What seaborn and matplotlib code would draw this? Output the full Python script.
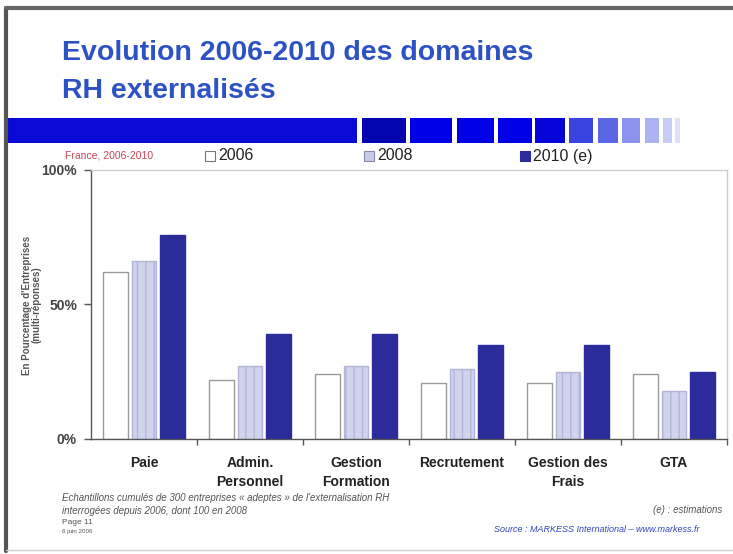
import numpy as np
import pandas as pd
import matplotlib
matplotlib.use("Agg")
import matplotlib.pyplot as plt
from matplotlib.patches import Rectangle
from matplotlib.lines import Line2D
import seaborn as sns

categories = ["Paie", "Admin.\nPersonnel", "Gestion\nFormation", "Recrutement",
              "Gestion des\nFrais", "GTA"]
years = ["2006", "2008", "2010 (e)"]
values_2006 = [62, 22, 24, 21, 21, 24]
values_2008 = [66, 27, 27, 26, 25, 18]
values_2010 = [76, 39, 39, 35, 35, 25]
ytick_values = [0, 50, 100]
ytick_labels = ["0%", "50%", "100%"]

df = pd.DataFrame({
    "cat": categories * 3,
    "year": [years[0]] * 6 + [years[1]] * 6 + [years[2]] * 6,
    "val": values_2006 + values_2008 + values_2010,
})

sns.set_theme(style="white")
plt.rcParams["font.family"] = ["Liberation Sans", "DejaVu Sans"]

W, H = 733, 554
fig = plt.figure(figsize=(W / 100, H / 100), dpi=100)
fig.patch.set_facecolor("white")

def fx(x):
    return x / W

def fy(y):
    return 1 - y / H

# slide border
fig.add_artist(Line2D([fx(6), fx(6)], [fy(8), fy(551)], color="#555555", lw=3, transform=fig.transFigure))
fig.add_artist(Line2D([fx(6), fx(733)], [fy(8), fy(8)], color="#666666", lw=3, transform=fig.transFigure))
fig.add_artist(Line2D([fx(6), fx(733)], [fy(550), fy(550)], color="#cfcfcf", lw=1, transform=fig.transFigure))

# title
fig.text(fx(62), fy(60), "Evolution 2006-2010 des domaines", color="#2d52c4", fontsize=20.5,
         fontweight="bold", ha="left", va="baseline")
fig.text(fx(62), fy(98), "RH externalisés", color="#2d52c4", fontsize=20.5,
         fontweight="bold", ha="left", va="baseline")

# blue band
band_top, band_bot = 118, 143
fig.add_artist(Rectangle((fx(7), fy(band_bot)), fx(357 - 7), fy(band_top) - fy(band_bot),
                         transform=fig.transFigure, facecolor="#0a0ad6", edgecolor="none"))
squares = [(362, 406, "#0505b0"), (410, 452, "#0000e6"), (457, 494, "#0000e6"),
           (498, 532, "#0000e6"), (535, 565, "#0505d8"), (569, 593, "#3a45e0"),
           (598, 618, "#5a66e6"), (622, 640, "#8a94ee"), (645, 659, "#aab2f2"),
           (663, 672, "#c6ccf6"), (675, 680, "#dde0fa")]
for x0, x1, c in squares:
    fig.add_artist(Rectangle((fx(x0), fy(band_bot)), fx(x1 - x0), fy(band_top) - fy(band_bot),
                             transform=fig.transFigure, facecolor=c, edgecolor="none"))

# legend row
fig.text(fx(65), fy(156), "France, 2006-2010", color="#cc4455", fontsize=7.5, ha="left", va="center")
leg_items = [(205, "white", "#777777", "2006"), (364, "#c9cce8", "#8888aa", "2008"),
             (520, "#2b2b9b", "#2b2b9b", "2010 (e)")]
for x0, fc, ec, lab in leg_items:
    fig.add_artist(Rectangle((fx(x0), fy(161)), fx(10), fy(151) - fy(161), transform=fig.transFigure,
                             facecolor=fc, edgecolor=ec, lw=0.8))
    fig.text(fx(x0 + 13), fy(156), lab, color="#222222", fontsize=11.5, ha="left", va="center")

# axes
ax = fig.add_axes([fx(91), fy(439), fx(727 - 91), fy(170) - fy(439)])
palette = {"2006": "white", "2008": "#d0d3ec", "2010 (e)": "#2b2b9b"}
sns.barplot(data=df, x="cat", y="val", hue="year", order=categories, hue_order=years,
            palette=palette, width=0.8, gap=0.12, ax=ax, legend=False, saturation=1)

edge_cols = ["#9a9a9a", "#b2b5d6", "#2b2b9b"]
for i, cont in enumerate(ax.containers):
    for bar in cont:
        bar.set_edgecolor(edge_cols[i])
        bar.set_linewidth(1.0)
        if i == 1:
            bar.set_hatch("||")

ax.set_ylim(0, 100)
ax.set_xlim(-0.5, 5.5)
ax.set_yticks(ytick_values)
ax.set_yticklabels(ytick_labels, fontsize=10, fontweight="bold", color="#444444")
ax.set_xticks(range(len(categories)))
ax.set_xticklabels(categories, fontsize=10, fontweight="bold", color="#222222", linespacing=1.5)
ax.set_xticks(np.arange(0.5, 5.6, 1.0), minor=True)
ax.tick_params(axis="x", which="major", length=0, pad=12)
ax.tick_params(axis="x", which="minor", length=4, direction="out", color="#555555", width=1, bottom=True)
ax.tick_params(axis="y", length=5, direction="out", color="#555555", width=1, left=True, pad=5)
ax.set_xlabel("")
ax.set_ylabel("")
for s in ["left", "bottom"]:
    ax.spines[s].set_color("#555555")
    ax.spines[s].set_linewidth(1.0)
for s in ["top", "right"]:
    ax.spines[s].set_color("#cccccc")
    ax.spines[s].set_linewidth(1.0)
ax.set_facecolor("white")

# y label
fig.text(fx(27), fy(305), "En Pourcentage d'Entreprises", rotation=90, fontsize=7,
         fontweight="bold", color="#555555", ha="center", va="center")
fig.text(fx(37), fy(305), "(multi-réponses)", rotation=90, fontsize=7,
         fontweight="bold", color="#555555", ha="center", va="center")

# footer
fig.text(fx(62), fy(498), "Echantillons cumulés de 300 entreprises « adeptes » de l'externalisation RH",
         fontsize=7, style="italic", color="#555555", ha="left", va="center")
fig.text(fx(62), fy(511), "interrogées depuis 2006, dont 100 en 2008",
         fontsize=7, style="italic", color="#555555", ha="left", va="center")
fig.text(fx(62), fy(523), "Page 11", fontsize=6, color="#555555", ha="left", va="center")
fig.text(fx(62), fy(532), "6 juin 2006", fontsize=4.5, color="#555555", ha="left", va="center")
fig.text(fx(722), fy(510), "(e) : estimations", fontsize=7, style="italic", color="#555555",
         ha="right", va="center")
fig.text(fx(700), fy(529), "Source : MARKESS International – www.markess.fr", fontsize=6.5,
         style="italic", color="#3344bb", ha="right", va="center")

fig.savefig("out.png", dpi=100, facecolor="white")
